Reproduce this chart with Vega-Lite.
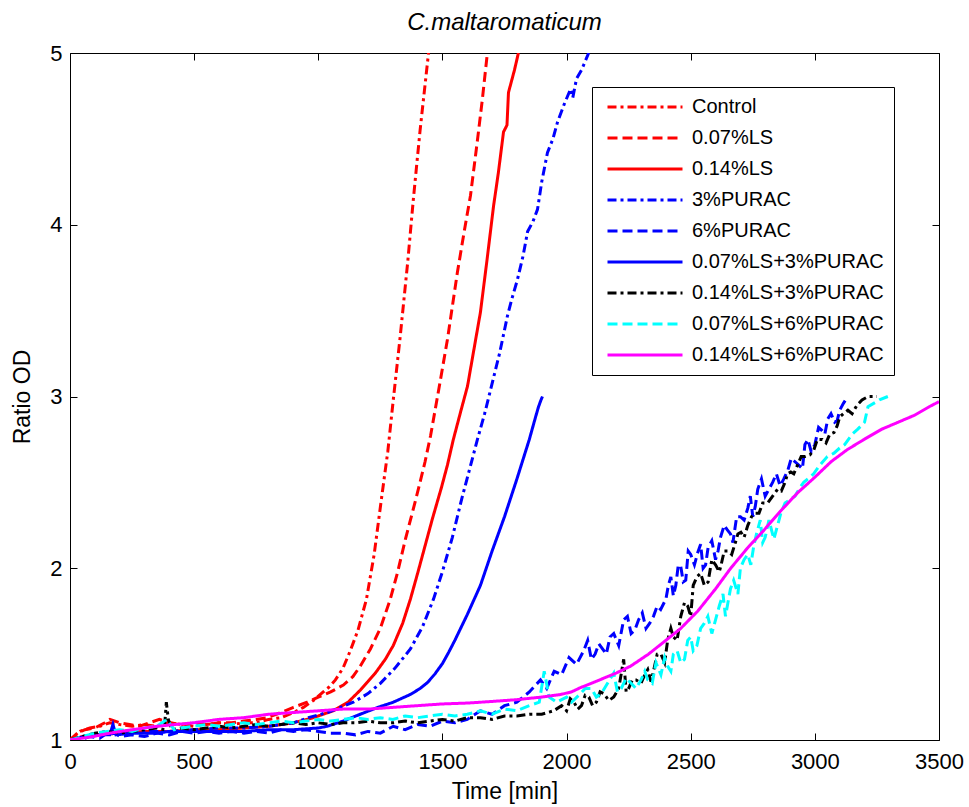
{
  "$schema": "https://vega.github.io/schema/vega-lite/v6.json",
  "width": 869,
  "height": 687,
  "autosize": {"type": "none"},
  "padding": {"left": 70, "top": 53, "right": 30, "bottom": 67},
  "config": {"view": {"stroke": "black", "strokeWidth": 1}, "font": "Liberation Sans"},
  "title": {"text": "C.maltaromaticum", "fontStyle": "italic", "fontWeight": "normal", "fontSize": 24, "font": "Liberation Sans", "color": "black", "offset": 7},
  "datasets": {
    "d": [
      {"s":"Control","t":0,"r":1.0},{"s":"Control","t":40,"r":1.05},{"s":"Control","t":80,"r":1.07},{"s":"Control","t":120,"r":1.08},{"s":"Control","t":160,"r":1.1},{"s":"Control","t":200,"r":1.09},{"s":"Control","t":250,"r":1.08},{"s":"Control","t":300,"r":1.09},{"s":"Control","t":350,"r":1.08},{"s":"Control","t":400,"r":1.1},{"s":"Control","t":450,"r":1.09},{"s":"Control","t":500,"r":1.08},{"s":"Control","t":550,"r":1.09},{"s":"Control","t":600,"r":1.1},{"s":"Control","t":650,"r":1.09},{"s":"Control","t":700,"r":1.1},{"s":"Control","t":750,"r":1.1},{"s":"Control","t":800,"r":1.12},{"s":"Control","t":850,"r":1.13},{"s":"Control","t":900,"r":1.16},{"s":"Control","t":940,"r":1.19},{"s":"Control","t":980,"r":1.23},{"s":"Control","t":1020,"r":1.28},{"s":"Control","t":1045,"r":1.31},{"s":"Control","t":1069,"r":1.35},{"s":"Control","t":1100,"r":1.42},{"s":"Control","t":1129,"r":1.52},{"s":"Control","t":1160,"r":1.64},{"s":"Control","t":1194,"r":1.82},{"s":"Control","t":1225,"r":2.08},{"s":"Control","t":1254,"r":2.4},{"s":"Control","t":1280,"r":2.68},{"s":"Control","t":1302,"r":2.98},{"s":"Control","t":1330,"r":3.35},{"s":"Control","t":1360,"r":3.78},{"s":"Control","t":1383,"r":4.15},{"s":"Control","t":1410,"r":4.55},{"s":"Control","t":1444,"r":5.0},

      {"s":"0.07%LS","t":0,"r":1.0},{"s":"0.07%LS","t":30,"r":1.04},{"s":"0.07%LS","t":60,"r":1.06},{"s":"0.07%LS","t":100,"r":1.07},{"s":"0.07%LS","t":140,"r":1.1},{"s":"0.07%LS","t":161,"r":1.12},{"s":"0.07%LS","t":200,"r":1.1},{"s":"0.07%LS","t":240,"r":1.09},{"s":"0.07%LS","t":280,"r":1.08},{"s":"0.07%LS","t":320,"r":1.1},{"s":"0.07%LS","t":360,"r":1.12},{"s":"0.07%LS","t":400,"r":1.1},{"s":"0.07%LS","t":450,"r":1.09},{"s":"0.07%LS","t":500,"r":1.1},{"s":"0.07%LS","t":550,"r":1.09},{"s":"0.07%LS","t":600,"r":1.1},{"s":"0.07%LS","t":650,"r":1.1},{"s":"0.07%LS","t":700,"r":1.11},{"s":"0.07%LS","t":750,"r":1.12},{"s":"0.07%LS","t":794,"r":1.13},{"s":"0.07%LS","t":850,"r":1.16},{"s":"0.07%LS","t":900,"r":1.19},{"s":"0.07%LS","t":955,"r":1.22},{"s":"0.07%LS","t":1000,"r":1.25},{"s":"0.07%LS","t":1050,"r":1.28},{"s":"0.07%LS","t":1101,"r":1.32},{"s":"0.07%LS","t":1140,"r":1.37},{"s":"0.07%LS","t":1169,"r":1.43},{"s":"0.07%LS","t":1210,"r":1.53},{"s":"0.07%LS","t":1250,"r":1.65},{"s":"0.07%LS","t":1290,"r":1.82},{"s":"0.07%LS","t":1320,"r":1.98},{"s":"0.07%LS","t":1351,"r":2.17},{"s":"0.07%LS","t":1380,"r":2.33},{"s":"0.07%LS","t":1403,"r":2.46},{"s":"0.07%LS","t":1430,"r":2.62},{"s":"0.07%LS","t":1452,"r":2.77},{"s":"0.07%LS","t":1490,"r":3.08},{"s":"0.07%LS","t":1520,"r":3.33},{"s":"0.07%LS","t":1560,"r":3.72},{"s":"0.07%LS","t":1590,"r":3.98},{"s":"0.07%LS","t":1613,"r":4.17},{"s":"0.07%LS","t":1640,"r":4.48},{"s":"0.07%LS","t":1660,"r":4.72},{"s":"0.07%LS","t":1681,"r":5.0},

      {"s":"0.14%LS","t":0,"r":1.0},{"s":"0.14%LS","t":50,"r":1.02},{"s":"0.14%LS","t":100,"r":1.03},{"s":"0.14%LS","t":200,"r":1.04},{"s":"0.14%LS","t":300,"r":1.05},{"s":"0.14%LS","t":400,"r":1.05},{"s":"0.14%LS","t":500,"r":1.06},{"s":"0.14%LS","t":600,"r":1.06},{"s":"0.14%LS","t":700,"r":1.07},{"s":"0.14%LS","t":800,"r":1.08},{"s":"0.14%LS","t":899,"r":1.1},{"s":"0.14%LS","t":980,"r":1.13},{"s":"0.14%LS","t":1060,"r":1.17},{"s":"0.14%LS","t":1120,"r":1.22},{"s":"0.14%LS","t":1169,"r":1.29},{"s":"0.14%LS","t":1230,"r":1.39},{"s":"0.14%LS","t":1270,"r":1.47},{"s":"0.14%LS","t":1302,"r":1.55},{"s":"0.14%LS","t":1340,"r":1.68},{"s":"0.14%LS","t":1371,"r":1.82},{"s":"0.14%LS","t":1400,"r":1.97},{"s":"0.14%LS","t":1430,"r":2.13},{"s":"0.14%LS","t":1460,"r":2.29},{"s":"0.14%LS","t":1496,"r":2.47},{"s":"0.14%LS","t":1520,"r":2.6},{"s":"0.14%LS","t":1544,"r":2.75},{"s":"0.14%LS","t":1575,"r":2.92},{"s":"0.14%LS","t":1601,"r":3.06},{"s":"0.14%LS","t":1630,"r":3.3},{"s":"0.14%LS","t":1653,"r":3.49},{"s":"0.14%LS","t":1680,"r":3.8},{"s":"0.14%LS","t":1706,"r":4.11},{"s":"0.14%LS","t":1725,"r":4.3},{"s":"0.14%LS","t":1746,"r":4.54},{"s":"0.14%LS","t":1760,"r":4.58},{"s":"0.14%LS","t":1766,"r":4.77},{"s":"0.14%LS","t":1790,"r":4.9},{"s":"0.14%LS","t":1806,"r":5.0},

      {"s":"3%PURAC","t":0,"r":1.0},{"s":"3%PURAC","t":50,"r":1.02},{"s":"3%PURAC","t":100,"r":1.03},{"s":"3%PURAC","t":200,"r":1.04},{"s":"3%PURAC","t":300,"r":1.05},{"s":"3%PURAC","t":400,"r":1.05},{"s":"3%PURAC","t":500,"r":1.06},{"s":"3%PURAC","t":600,"r":1.07},{"s":"3%PURAC","t":700,"r":1.07},{"s":"3%PURAC","t":800,"r":1.08},{"s":"3%PURAC","t":900,"r":1.1},{"s":"3%PURAC","t":960,"r":1.13},{"s":"3%PURAC","t":1036,"r":1.16},{"s":"3%PURAC","t":1090,"r":1.19},{"s":"3%PURAC","t":1141,"r":1.22},{"s":"3%PURAC","t":1200,"r":1.27},{"s":"3%PURAC","t":1250,"r":1.33},{"s":"3%PURAC","t":1310,"r":1.42},{"s":"3%PURAC","t":1371,"r":1.53},{"s":"3%PURAC","t":1420,"r":1.66},{"s":"3%PURAC","t":1464,"r":1.82},{"s":"3%PURAC","t":1500,"r":1.98},{"s":"3%PURAC","t":1540,"r":2.18},{"s":"3%PURAC","t":1577,"r":2.4},{"s":"3%PURAC","t":1610,"r":2.58},{"s":"3%PURAC","t":1641,"r":2.75},{"s":"3%PURAC","t":1670,"r":2.9},{"s":"3%PURAC","t":1694,"r":3.04},{"s":"3%PURAC","t":1730,"r":3.25},{"s":"3%PURAC","t":1762,"r":3.47},{"s":"3%PURAC","t":1780,"r":3.57},{"s":"3%PURAC","t":1802,"r":3.68},{"s":"3%PURAC","t":1825,"r":3.82},{"s":"3%PURAC","t":1843,"r":3.96},{"s":"3%PURAC","t":1865,"r":4.02},{"s":"3%PURAC","t":1883,"r":4.09},{"s":"3%PURAC","t":1900,"r":4.25},{"s":"3%PURAC","t":1923,"r":4.42},{"s":"3%PURAC","t":1945,"r":4.5},{"s":"3%PURAC","t":1964,"r":4.6},{"s":"3%PURAC","t":1990,"r":4.7},{"s":"3%PURAC","t":2016,"r":4.79},{"s":"3%PURAC","t":2025,"r":4.74},{"s":"3%PURAC","t":2040,"r":4.85},{"s":"3%PURAC","t":2060,"r":4.9},{"s":"3%PURAC","t":2089,"r":5.0},

      {"s":"6%PURAC","t":0,"r":1.0},{"s":"6%PURAC","t":40,"r":1.0},{"s":"6%PURAC","t":80,"r":1.02},{"s":"6%PURAC","t":120,"r":1.01},{"s":"6%PURAC","t":170,"r":1.06},{"s":"6%PURAC","t":200,"r":1.02},{"s":"6%PURAC","t":250,"r":1.03},{"s":"6%PURAC","t":300,"r":1.02},{"s":"6%PURAC","t":350,"r":1.04},{"s":"6%PURAC","t":400,"r":1.03},{"s":"6%PURAC","t":450,"r":1.05},{"s":"6%PURAC","t":500,"r":1.04},{"s":"6%PURAC","t":550,"r":1.05},{"s":"6%PURAC","t":600,"r":1.04},{"s":"6%PURAC","t":650,"r":1.05},{"s":"6%PURAC","t":700,"r":1.04},{"s":"6%PURAC","t":750,"r":1.05},{"s":"6%PURAC","t":800,"r":1.04},{"s":"6%PURAC","t":850,"r":1.06},{"s":"6%PURAC","t":900,"r":1.05},{"s":"6%PURAC","t":950,"r":1.06},{"s":"6%PURAC","t":1000,"r":1.05},{"s":"6%PURAC","t":1050,"r":1.04},{"s":"6%PURAC","t":1101,"r":1.04},{"s":"6%PURAC","t":1150,"r":1.03},{"s":"6%PURAC","t":1200,"r":1.05},{"s":"6%PURAC","t":1250,"r":1.04},{"s":"6%PURAC","t":1302,"r":1.08},{"s":"6%PURAC","t":1350,"r":1.06},{"s":"6%PURAC","t":1400,"r":1.09},{"s":"6%PURAC","t":1450,"r":1.08},{"s":"6%PURAC","t":1500,"r":1.11},{"s":"6%PURAC","t":1550,"r":1.1},{"s":"6%PURAC","t":1600,"r":1.12},{"s":"6%PURAC","t":1653,"r":1.17},{"s":"6%PURAC","t":1700,"r":1.15},{"s":"6%PURAC","t":1750,"r":1.2},{"s":"6%PURAC","t":1800,"r":1.22},{"s":"6%PURAC","t":1850,"r":1.28},{"s":"6%PURAC","t":1895,"r":1.35},{"s":"6%PURAC","t":1920,"r":1.3},{"s":"6%PURAC","t":1950,"r":1.4},{"s":"6%PURAC","t":1980,"r":1.38},{"s":"6%PURAC","t":2010,"r":1.48},{"s":"6%PURAC","t":2040,"r":1.44},{"s":"6%PURAC","t":2069,"r":1.52},{"s":"6%PURAC","t":2085,"r":1.58},{"s":"6%PURAC","t":2100,"r":1.47},{"s":"6%PURAC","t":2115,"r":1.5},{"s":"6%PURAC","t":2130,"r":1.56},{"s":"6%PURAC","t":2160,"r":1.5},{"s":"6%PURAC","t":2175,"r":1.6},{"s":"6%PURAC","t":2190,"r":1.62},{"s":"6%PURAC","t":2210,"r":1.55},{"s":"6%PURAC","t":2230,"r":1.7},{"s":"6%PURAC","t":2245,"r":1.72},{"s":"6%PURAC","t":2260,"r":1.62},{"s":"6%PURAC","t":2275,"r":1.64},{"s":"6%PURAC","t":2290,"r":1.7},{"s":"6%PURAC","t":2305,"r":1.74},{"s":"6%PURAC","t":2320,"r":1.65},{"s":"6%PURAC","t":2335,"r":1.68},{"s":"6%PURAC","t":2350,"r":1.72},{"s":"6%PURAC","t":2365,"r":1.78},{"s":"6%PURAC","t":2379,"r":1.76},{"s":"6%PURAC","t":2400,"r":1.82},{"s":"6%PURAC","t":2410,"r":1.9},{"s":"6%PURAC","t":2420,"r":1.95},{"s":"6%PURAC","t":2430,"r":1.84},{"s":"6%PURAC","t":2440,"r":1.9},{"s":"6%PURAC","t":2450,"r":2.02},{"s":"6%PURAC","t":2460,"r":2.01},{"s":"6%PURAC","t":2470,"r":1.92},{"s":"6%PURAC","t":2480,"r":1.93},{"s":"6%PURAC","t":2490,"r":2.1},{"s":"6%PURAC","t":2500,"r":2.08},{"s":"6%PURAC","t":2515,"r":2.02},{"s":"6%PURAC","t":2528,"r":2.09},{"s":"6%PURAC","t":2540,"r":2.14},{"s":"6%PURAC","t":2550,"r":2.0},{"s":"6%PURAC","t":2560,"r":2.02},{"s":"6%PURAC","t":2570,"r":2.12},{"s":"6%PURAC","t":2585,"r":2.16},{"s":"6%PURAC","t":2600,"r":2.05},{"s":"6%PURAC","t":2610,"r":2.1},{"s":"6%PURAC","t":2620,"r":2.18},{"s":"6%PURAC","t":2635,"r":2.25},{"s":"6%PURAC","t":2649,"r":2.22},{"s":"6%PURAC","t":2660,"r":2.2},{"s":"6%PURAC","t":2670,"r":2.15},{"s":"6%PURAC","t":2685,"r":2.3},{"s":"6%PURAC","t":2700,"r":2.3},{"s":"6%PURAC","t":2715,"r":2.28},{"s":"6%PURAC","t":2730,"r":2.35},{"s":"6%PURAC","t":2740,"r":2.42},{"s":"6%PURAC","t":2750,"r":2.3},{"s":"6%PURAC","t":2760,"r":2.36},{"s":"6%PURAC","t":2770,"r":2.46},{"s":"6%PURAC","t":2785,"r":2.52},{"s":"6%PURAC","t":2800,"r":2.42},{"s":"6%PURAC","t":2815,"r":2.46},{"s":"6%PURAC","t":2830,"r":2.5},{"s":"6%PURAC","t":2845,"r":2.55},{"s":"6%PURAC","t":2860,"r":2.48},{"s":"6%PURAC","t":2875,"r":2.52},{"s":"6%PURAC","t":2891,"r":2.57},{"s":"6%PURAC","t":2905,"r":2.64},{"s":"6%PURAC","t":2920,"r":2.62},{"s":"6%PURAC","t":2935,"r":2.6},{"s":"6%PURAC","t":2950,"r":2.58},{"s":"6%PURAC","t":2960,"r":2.72},{"s":"6%PURAC","t":2972,"r":2.75},{"s":"6%PURAC","t":2985,"r":2.68},{"s":"6%PURAC","t":3000,"r":2.72},{"s":"6%PURAC","t":3015,"r":2.82},{"s":"6%PURAC","t":3030,"r":2.8},{"s":"6%PURAC","t":3040,"r":2.78},{"s":"6%PURAC","t":3052,"r":2.87},{"s":"6%PURAC","t":3065,"r":2.9},{"s":"6%PURAC","t":3080,"r":2.85},{"s":"6%PURAC","t":3090,"r":2.86},{"s":"6%PURAC","t":3100,"r":2.92},{"s":"6%PURAC","t":3115,"r":2.96},{"s":"6%PURAC","t":3133,"r":3.0},

      {"s":"0.07%LS+3%PURAC","t":0,"r":1.0},{"s":"0.07%LS+3%PURAC","t":60,"r":1.02},{"s":"0.07%LS+3%PURAC","t":120,"r":1.03},{"s":"0.07%LS+3%PURAC","t":160,"r":1.03},{"s":"0.07%LS+3%PURAC","t":173,"r":1.09},{"s":"0.07%LS+3%PURAC","t":185,"r":1.03},{"s":"0.07%LS+3%PURAC","t":250,"r":1.04},{"s":"0.07%LS+3%PURAC","t":300,"r":1.04},{"s":"0.07%LS+3%PURAC","t":350,"r":1.04},{"s":"0.07%LS+3%PURAC","t":400,"r":1.05},{"s":"0.07%LS+3%PURAC","t":500,"r":1.05},{"s":"0.07%LS+3%PURAC","t":600,"r":1.05},{"s":"0.07%LS+3%PURAC","t":700,"r":1.05},{"s":"0.07%LS+3%PURAC","t":800,"r":1.06},{"s":"0.07%LS+3%PURAC","t":900,"r":1.06},{"s":"0.07%LS+3%PURAC","t":1000,"r":1.07},{"s":"0.07%LS+3%PURAC","t":1036,"r":1.08},{"s":"0.07%LS+3%PURAC","t":1100,"r":1.11},{"s":"0.07%LS+3%PURAC","t":1169,"r":1.15},{"s":"0.07%LS+3%PURAC","t":1240,"r":1.19},{"s":"0.07%LS+3%PURAC","t":1302,"r":1.22},{"s":"0.07%LS+3%PURAC","t":1340,"r":1.245},{"s":"0.07%LS+3%PURAC","t":1371,"r":1.265},{"s":"0.07%LS+3%PURAC","t":1410,"r":1.3},{"s":"0.07%LS+3%PURAC","t":1440,"r":1.335},{"s":"0.07%LS+3%PURAC","t":1470,"r":1.385},{"s":"0.07%LS+3%PURAC","t":1500,"r":1.445},{"s":"0.07%LS+3%PURAC","t":1525,"r":1.51},{"s":"0.07%LS+3%PURAC","t":1550,"r":1.58},{"s":"0.07%LS+3%PURAC","t":1575,"r":1.655},{"s":"0.07%LS+3%PURAC","t":1600,"r":1.73},{"s":"0.07%LS+3%PURAC","t":1625,"r":1.81},{"s":"0.07%LS+3%PURAC","t":1653,"r":1.9},{"s":"0.07%LS+3%PURAC","t":1700,"r":2.1},{"s":"0.07%LS+3%PURAC","t":1750,"r":2.3},{"s":"0.07%LS+3%PURAC","t":1800,"r":2.52},{"s":"0.07%LS+3%PURAC","t":1850,"r":2.75},{"s":"0.07%LS+3%PURAC","t":1875,"r":2.88},{"s":"0.07%LS+3%PURAC","t":1887,"r":2.94},{"s":"0.07%LS+3%PURAC","t":1897,"r":2.98},{"s":"0.07%LS+3%PURAC","t":1903,"r":3.0},

      {"s":"0.14%LS+3%PURAC","t":0,"r":1.0},{"s":"0.14%LS+3%PURAC","t":50,"r":1.02},{"s":"0.14%LS+3%PURAC","t":100,"r":1.04},{"s":"0.14%LS+3%PURAC","t":150,"r":1.05},{"s":"0.14%LS+3%PURAC","t":200,"r":1.04},{"s":"0.14%LS+3%PURAC","t":250,"r":1.05},{"s":"0.14%LS+3%PURAC","t":300,"r":1.06},{"s":"0.14%LS+3%PURAC","t":350,"r":1.07},{"s":"0.14%LS+3%PURAC","t":380,"r":1.06},{"s":"0.14%LS+3%PURAC","t":388,"r":1.22},{"s":"0.14%LS+3%PURAC","t":396,"r":1.12},{"s":"0.14%LS+3%PURAC","t":410,"r":1.06},{"s":"0.14%LS+3%PURAC","t":450,"r":1.07},{"s":"0.14%LS+3%PURAC","t":500,"r":1.06},{"s":"0.14%LS+3%PURAC","t":550,"r":1.07},{"s":"0.14%LS+3%PURAC","t":600,"r":1.08},{"s":"0.14%LS+3%PURAC","t":650,"r":1.07},{"s":"0.14%LS+3%PURAC","t":700,"r":1.08},{"s":"0.14%LS+3%PURAC","t":750,"r":1.09},{"s":"0.14%LS+3%PURAC","t":800,"r":1.08},{"s":"0.14%LS+3%PURAC","t":850,"r":1.09},{"s":"0.14%LS+3%PURAC","t":900,"r":1.1},{"s":"0.14%LS+3%PURAC","t":950,"r":1.09},{"s":"0.14%LS+3%PURAC","t":1000,"r":1.1},{"s":"0.14%LS+3%PURAC","t":1050,"r":1.09},{"s":"0.14%LS+3%PURAC","t":1100,"r":1.1},{"s":"0.14%LS+3%PURAC","t":1150,"r":1.1},{"s":"0.14%LS+3%PURAC","t":1200,"r":1.11},{"s":"0.14%LS+3%PURAC","t":1250,"r":1.1},{"s":"0.14%LS+3%PURAC","t":1300,"r":1.1},{"s":"0.14%LS+3%PURAC","t":1350,"r":1.11},{"s":"0.14%LS+3%PURAC","t":1400,"r":1.1},{"s":"0.14%LS+3%PURAC","t":1450,"r":1.11},{"s":"0.14%LS+3%PURAC","t":1500,"r":1.12},{"s":"0.14%LS+3%PURAC","t":1550,"r":1.11},{"s":"0.14%LS+3%PURAC","t":1600,"r":1.13},{"s":"0.14%LS+3%PURAC","t":1653,"r":1.13},{"s":"0.14%LS+3%PURAC","t":1700,"r":1.12},{"s":"0.14%LS+3%PURAC","t":1750,"r":1.14},{"s":"0.14%LS+3%PURAC","t":1800,"r":1.14},{"s":"0.14%LS+3%PURAC","t":1850,"r":1.15},{"s":"0.14%LS+3%PURAC","t":1900,"r":1.15},{"s":"0.14%LS+3%PURAC","t":1948,"r":1.17},{"s":"0.14%LS+3%PURAC","t":1980,"r":1.2},{"s":"0.14%LS+3%PURAC","t":2000,"r":1.17},{"s":"0.14%LS+3%PURAC","t":2015,"r":1.24},{"s":"0.14%LS+3%PURAC","t":2030,"r":1.22},{"s":"0.14%LS+3%PURAC","t":2045,"r":1.18},{"s":"0.14%LS+3%PURAC","t":2060,"r":1.2},{"s":"0.14%LS+3%PURAC","t":2075,"r":1.26},{"s":"0.14%LS+3%PURAC","t":2090,"r":1.25},{"s":"0.14%LS+3%PURAC","t":2105,"r":1.2},{"s":"0.14%LS+3%PURAC","t":2120,"r":1.22},{"s":"0.14%LS+3%PURAC","t":2135,"r":1.28},{"s":"0.14%LS+3%PURAC","t":2150,"r":1.27},{"s":"0.14%LS+3%PURAC","t":2170,"r":1.23},{"s":"0.14%LS+3%PURAC","t":2190,"r":1.25},{"s":"0.14%LS+3%PURAC","t":2210,"r":1.3},{"s":"0.14%LS+3%PURAC","t":2230,"r":1.47},{"s":"0.14%LS+3%PURAC","t":2240,"r":1.28},{"s":"0.14%LS+3%PURAC","t":2250,"r":1.3},{"s":"0.14%LS+3%PURAC","t":2265,"r":1.35},{"s":"0.14%LS+3%PURAC","t":2280,"r":1.35},{"s":"0.14%LS+3%PURAC","t":2300,"r":1.33},{"s":"0.14%LS+3%PURAC","t":2315,"r":1.38},{"s":"0.14%LS+3%PURAC","t":2327,"r":1.41},{"s":"0.14%LS+3%PURAC","t":2340,"r":1.34},{"s":"0.14%LS+3%PURAC","t":2350,"r":1.4},{"s":"0.14%LS+3%PURAC","t":2365,"r":1.5},{"s":"0.14%LS+3%PURAC","t":2380,"r":1.5},{"s":"0.14%LS+3%PURAC","t":2395,"r":1.45},{"s":"0.14%LS+3%PURAC","t":2407,"r":1.58},{"s":"0.14%LS+3%PURAC","t":2420,"r":1.65},{"s":"0.14%LS+3%PURAC","t":2430,"r":1.6},{"s":"0.14%LS+3%PURAC","t":2445,"r":1.58},{"s":"0.14%LS+3%PURAC","t":2460,"r":1.72},{"s":"0.14%LS+3%PURAC","t":2475,"r":1.8},{"s":"0.14%LS+3%PURAC","t":2488,"r":1.78},{"s":"0.14%LS+3%PURAC","t":2500,"r":1.72},{"s":"0.14%LS+3%PURAC","t":2510,"r":1.9},{"s":"0.14%LS+3%PURAC","t":2525,"r":1.95},{"s":"0.14%LS+3%PURAC","t":2540,"r":1.97},{"s":"0.14%LS+3%PURAC","t":2555,"r":1.9},{"s":"0.14%LS+3%PURAC","t":2570,"r":1.92},{"s":"0.14%LS+3%PURAC","t":2585,"r":2.05},{"s":"0.14%LS+3%PURAC","t":2600,"r":2.02},{"s":"0.14%LS+3%PURAC","t":2615,"r":1.98},{"s":"0.14%LS+3%PURAC","t":2621,"r":2.01},{"s":"0.14%LS+3%PURAC","t":2635,"r":2.1},{"s":"0.14%LS+3%PURAC","t":2650,"r":2.1},{"s":"0.14%LS+3%PURAC","t":2665,"r":2.08},{"s":"0.14%LS+3%PURAC","t":2680,"r":2.15},{"s":"0.14%LS+3%PURAC","t":2690,"r":2.2},{"s":"0.14%LS+3%PURAC","t":2702,"r":2.21},{"s":"0.14%LS+3%PURAC","t":2715,"r":2.18},{"s":"0.14%LS+3%PURAC","t":2730,"r":2.25},{"s":"0.14%LS+3%PURAC","t":2745,"r":2.3},{"s":"0.14%LS+3%PURAC","t":2760,"r":2.32},{"s":"0.14%LS+3%PURAC","t":2775,"r":2.32},{"s":"0.14%LS+3%PURAC","t":2790,"r":2.38},{"s":"0.14%LS+3%PURAC","t":2810,"r":2.38},{"s":"0.14%LS+3%PURAC","t":2830,"r":2.42},{"s":"0.14%LS+3%PURAC","t":2850,"r":2.46},{"s":"0.14%LS+3%PURAC","t":2865,"r":2.45},{"s":"0.14%LS+3%PURAC","t":2880,"r":2.5},{"s":"0.14%LS+3%PURAC","t":2890,"r":2.55},{"s":"0.14%LS+3%PURAC","t":2903,"r":2.56},{"s":"0.14%LS+3%PURAC","t":2915,"r":2.55},{"s":"0.14%LS+3%PURAC","t":2930,"r":2.6},{"s":"0.14%LS+3%PURAC","t":2945,"r":2.65},{"s":"0.14%LS+3%PURAC","t":2960,"r":2.65},{"s":"0.14%LS+3%PURAC","t":2980,"r":2.66},{"s":"0.14%LS+3%PURAC","t":2996,"r":2.69},{"s":"0.14%LS+3%PURAC","t":3010,"r":2.75},{"s":"0.14%LS+3%PURAC","t":3030,"r":2.75},{"s":"0.14%LS+3%PURAC","t":3045,"r":2.73},{"s":"0.14%LS+3%PURAC","t":3060,"r":2.78},{"s":"0.14%LS+3%PURAC","t":3077,"r":2.79},{"s":"0.14%LS+3%PURAC","t":3090,"r":2.83},{"s":"0.14%LS+3%PURAC","t":3100,"r":2.88},{"s":"0.14%LS+3%PURAC","t":3115,"r":2.9},{"s":"0.14%LS+3%PURAC","t":3133,"r":2.92},{"s":"0.14%LS+3%PURAC","t":3150,"r":2.9},{"s":"0.14%LS+3%PURAC","t":3170,"r":2.95},{"s":"0.14%LS+3%PURAC","t":3190,"r":2.98},{"s":"0.14%LS+3%PURAC","t":3214,"r":3.0},{"s":"0.14%LS+3%PURAC","t":3250,"r":3.0},

      {"s":"0.07%LS+6%PURAC","t":0,"r":1.0},{"s":"0.07%LS+6%PURAC","t":50,"r":1.02},{"s":"0.07%LS+6%PURAC","t":100,"r":1.04},{"s":"0.07%LS+6%PURAC","t":150,"r":1.05},{"s":"0.07%LS+6%PURAC","t":200,"r":1.06},{"s":"0.07%LS+6%PURAC","t":250,"r":1.05},{"s":"0.07%LS+6%PURAC","t":300,"r":1.07},{"s":"0.07%LS+6%PURAC","t":350,"r":1.08},{"s":"0.07%LS+6%PURAC","t":390,"r":1.12},{"s":"0.07%LS+6%PURAC","t":420,"r":1.06},{"s":"0.07%LS+6%PURAC","t":450,"r":1.07},{"s":"0.07%LS+6%PURAC","t":500,"r":1.08},{"s":"0.07%LS+6%PURAC","t":550,"r":1.09},{"s":"0.07%LS+6%PURAC","t":600,"r":1.08},{"s":"0.07%LS+6%PURAC","t":650,"r":1.09},{"s":"0.07%LS+6%PURAC","t":700,"r":1.1},{"s":"0.07%LS+6%PURAC","t":750,"r":1.09},{"s":"0.07%LS+6%PURAC","t":800,"r":1.1},{"s":"0.07%LS+6%PURAC","t":850,"r":1.11},{"s":"0.07%LS+6%PURAC","t":900,"r":1.1},{"s":"0.07%LS+6%PURAC","t":950,"r":1.11},{"s":"0.07%LS+6%PURAC","t":1000,"r":1.12},{"s":"0.07%LS+6%PURAC","t":1050,"r":1.11},{"s":"0.07%LS+6%PURAC","t":1100,"r":1.12},{"s":"0.07%LS+6%PURAC","t":1150,"r":1.13},{"s":"0.07%LS+6%PURAC","t":1200,"r":1.12},{"s":"0.07%LS+6%PURAC","t":1250,"r":1.13},{"s":"0.07%LS+6%PURAC","t":1300,"r":1.12},{"s":"0.07%LS+6%PURAC","t":1350,"r":1.14},{"s":"0.07%LS+6%PURAC","t":1400,"r":1.13},{"s":"0.07%LS+6%PURAC","t":1450,"r":1.14},{"s":"0.07%LS+6%PURAC","t":1500,"r":1.15},{"s":"0.07%LS+6%PURAC","t":1550,"r":1.14},{"s":"0.07%LS+6%PURAC","t":1600,"r":1.15},{"s":"0.07%LS+6%PURAC","t":1653,"r":1.17},{"s":"0.07%LS+6%PURAC","t":1700,"r":1.15},{"s":"0.07%LS+6%PURAC","t":1750,"r":1.18},{"s":"0.07%LS+6%PURAC","t":1800,"r":1.17},{"s":"0.07%LS+6%PURAC","t":1850,"r":1.2},{"s":"0.07%LS+6%PURAC","t":1890,"r":1.22},{"s":"0.07%LS+6%PURAC","t":1910,"r":1.4},{"s":"0.07%LS+6%PURAC","t":1930,"r":1.25},{"s":"0.07%LS+6%PURAC","t":1960,"r":1.22},{"s":"0.07%LS+6%PURAC","t":2000,"r":1.25},{"s":"0.07%LS+6%PURAC","t":2020,"r":1.22},{"s":"0.07%LS+6%PURAC","t":2056,"r":1.27},{"s":"0.07%LS+6%PURAC","t":2075,"r":1.3},{"s":"0.07%LS+6%PURAC","t":2100,"r":1.3},{"s":"0.07%LS+6%PURAC","t":2120,"r":1.25},{"s":"0.07%LS+6%PURAC","t":2140,"r":1.27},{"s":"0.07%LS+6%PURAC","t":2165,"r":1.33},{"s":"0.07%LS+6%PURAC","t":2190,"r":1.39},{"s":"0.07%LS+6%PURAC","t":2205,"r":1.28},{"s":"0.07%LS+6%PURAC","t":2220,"r":1.3},{"s":"0.07%LS+6%PURAC","t":2240,"r":1.36},{"s":"0.07%LS+6%PURAC","t":2260,"r":1.33},{"s":"0.07%LS+6%PURAC","t":2280,"r":1.3},{"s":"0.07%LS+6%PURAC","t":2300,"r":1.35},{"s":"0.07%LS+6%PURAC","t":2315,"r":1.4},{"s":"0.07%LS+6%PURAC","t":2327,"r":1.35},{"s":"0.07%LS+6%PURAC","t":2345,"r":1.33},{"s":"0.07%LS+6%PURAC","t":2360,"r":1.45},{"s":"0.07%LS+6%PURAC","t":2380,"r":1.38},{"s":"0.07%LS+6%PURAC","t":2395,"r":1.48},{"s":"0.07%LS+6%PURAC","t":2407,"r":1.43},{"s":"0.07%LS+6%PURAC","t":2420,"r":1.4},{"s":"0.07%LS+6%PURAC","t":2430,"r":1.5},{"s":"0.07%LS+6%PURAC","t":2445,"r":1.52},{"s":"0.07%LS+6%PURAC","t":2460,"r":1.45},{"s":"0.07%LS+6%PURAC","t":2475,"r":1.47},{"s":"0.07%LS+6%PURAC","t":2488,"r":1.58},{"s":"0.07%LS+6%PURAC","t":2500,"r":1.6},{"s":"0.07%LS+6%PURAC","t":2510,"r":1.52},{"s":"0.07%LS+6%PURAC","t":2525,"r":1.55},{"s":"0.07%LS+6%PURAC","t":2540,"r":1.65},{"s":"0.07%LS+6%PURAC","t":2555,"r":1.68},{"s":"0.07%LS+6%PURAC","t":2569,"r":1.72},{"s":"0.07%LS+6%PURAC","t":2585,"r":1.62},{"s":"0.07%LS+6%PURAC","t":2600,"r":1.7},{"s":"0.07%LS+6%PURAC","t":2615,"r":1.78},{"s":"0.07%LS+6%PURAC","t":2630,"r":1.85},{"s":"0.07%LS+6%PURAC","t":2640,"r":1.72},{"s":"0.07%LS+6%PURAC","t":2650,"r":1.8},{"s":"0.07%LS+6%PURAC","t":2660,"r":1.88},{"s":"0.07%LS+6%PURAC","t":2673,"r":1.93},{"s":"0.07%LS+6%PURAC","t":2690,"r":1.85},{"s":"0.07%LS+6%PURAC","t":2700,"r":2.0},{"s":"0.07%LS+6%PURAC","t":2715,"r":2.05},{"s":"0.07%LS+6%PURAC","t":2730,"r":2.08},{"s":"0.07%LS+6%PURAC","t":2742,"r":2.02},{"s":"0.07%LS+6%PURAC","t":2754,"r":2.13},{"s":"0.07%LS+6%PURAC","t":2765,"r":2.2},{"s":"0.07%LS+6%PURAC","t":2780,"r":2.28},{"s":"0.07%LS+6%PURAC","t":2790,"r":2.15},{"s":"0.07%LS+6%PURAC","t":2800,"r":2.18},{"s":"0.07%LS+6%PURAC","t":2815,"r":2.28},{"s":"0.07%LS+6%PURAC","t":2835,"r":2.17},{"s":"0.07%LS+6%PURAC","t":2850,"r":2.25},{"s":"0.07%LS+6%PURAC","t":2863,"r":2.32},{"s":"0.07%LS+6%PURAC","t":2880,"r":2.38},{"s":"0.07%LS+6%PURAC","t":2900,"r":2.4},{"s":"0.07%LS+6%PURAC","t":2920,"r":2.42},{"s":"0.07%LS+6%PURAC","t":2940,"r":2.47},{"s":"0.07%LS+6%PURAC","t":2955,"r":2.5},{"s":"0.07%LS+6%PURAC","t":2972,"r":2.52},{"s":"0.07%LS+6%PURAC","t":2995,"r":2.55},{"s":"0.07%LS+6%PURAC","t":3020,"r":2.6},{"s":"0.07%LS+6%PURAC","t":3050,"r":2.65},{"s":"0.07%LS+6%PURAC","t":3077,"r":2.67},{"s":"0.07%LS+6%PURAC","t":3100,"r":2.7},{"s":"0.07%LS+6%PURAC","t":3120,"r":2.72},{"s":"0.07%LS+6%PURAC","t":3150,"r":2.78},{"s":"0.07%LS+6%PURAC","t":3173,"r":2.81},{"s":"0.07%LS+6%PURAC","t":3200,"r":2.85},{"s":"0.07%LS+6%PURAC","t":3214,"r":2.94},{"s":"0.07%LS+6%PURAC","t":3260,"r":2.98},{"s":"0.07%LS+6%PURAC","t":3294,"r":3.0},

      {"s":"0.14%LS+6%PURAC","t":0,"r":1.0},{"s":"0.14%LS+6%PURAC","t":93,"r":1.02},{"s":"0.14%LS+6%PURAC","t":161,"r":1.04},{"s":"0.14%LS+6%PURAC","t":250,"r":1.06},{"s":"0.14%LS+6%PURAC","t":350,"r":1.08},{"s":"0.14%LS+6%PURAC","t":496,"r":1.1},{"s":"0.14%LS+6%PURAC","t":600,"r":1.12},{"s":"0.14%LS+6%PURAC","t":700,"r":1.13},{"s":"0.14%LS+6%PURAC","t":800,"r":1.15},{"s":"0.14%LS+6%PURAC","t":899,"r":1.16},{"s":"0.14%LS+6%PURAC","t":1000,"r":1.17},{"s":"0.14%LS+6%PURAC","t":1100,"r":1.18},{"s":"0.14%LS+6%PURAC","t":1200,"r":1.18},{"s":"0.14%LS+6%PURAC","t":1302,"r":1.19},{"s":"0.14%LS+6%PURAC","t":1400,"r":1.2},{"s":"0.14%LS+6%PURAC","t":1500,"r":1.21},{"s":"0.14%LS+6%PURAC","t":1600,"r":1.215},{"s":"0.14%LS+6%PURAC","t":1706,"r":1.225},{"s":"0.14%LS+6%PURAC","t":1800,"r":1.235},{"s":"0.14%LS+6%PURAC","t":1900,"r":1.25},{"s":"0.14%LS+6%PURAC","t":1976,"r":1.265},{"s":"0.14%LS+6%PURAC","t":2020,"r":1.28},{"s":"0.14%LS+6%PURAC","t":2056,"r":1.305},{"s":"0.14%LS+6%PURAC","t":2100,"r":1.33},{"s":"0.14%LS+6%PURAC","t":2150,"r":1.36},{"s":"0.14%LS+6%PURAC","t":2200,"r":1.39},{"s":"0.14%LS+6%PURAC","t":2258,"r":1.43},{"s":"0.14%LS+6%PURAC","t":2330,"r":1.5},{"s":"0.14%LS+6%PURAC","t":2391,"r":1.57},{"s":"0.14%LS+6%PURAC","t":2460,"r":1.65},{"s":"0.14%LS+6%PURAC","t":2528,"r":1.75},{"s":"0.14%LS+6%PURAC","t":2600,"r":1.88},{"s":"0.14%LS+6%PURAC","t":2661,"r":2.0},{"s":"0.14%LS+6%PURAC","t":2730,"r":2.12},{"s":"0.14%LS+6%PURAC","t":2794,"r":2.22},{"s":"0.14%LS+6%PURAC","t":2860,"r":2.33},{"s":"0.14%LS+6%PURAC","t":2931,"r":2.44},{"s":"0.14%LS+6%PURAC","t":3000,"r":2.53},{"s":"0.14%LS+6%PURAC","t":3065,"r":2.62},{"s":"0.14%LS+6%PURAC","t":3130,"r":2.69},{"s":"0.14%LS+6%PURAC","t":3198,"r":2.75},{"s":"0.14%LS+6%PURAC","t":3270,"r":2.81},{"s":"0.14%LS+6%PURAC","t":3335,"r":2.85},{"s":"0.14%LS+6%PURAC","t":3400,"r":2.89},{"s":"0.14%LS+6%PURAC","t":3460,"r":2.94},{"s":"0.14%LS+6%PURAC","t":3500,"r":2.97}
    ]
  },
  "data": {"name": "d"},
  "layer": [
    {
      "mark": {"type": "line", "strokeWidth": 3, "clip": true},
      "encoding": {
        "x": {"field": "t", "type": "quantitative", "scale": {"domain": [0, 3500], "nice": false, "zero": false},
          "axis": {"orient": "bottom", "values": [0, 500, 1000, 1500, 2000, 2500, 3000, 3500], "format": "d", "title": "Time [min]", "titleFont": "Liberation Sans", "titleFontSize": 23, "titleFontWeight": "normal", "titleColor": "black", "titlePadding": 8, "labelFont": "Liberation Sans", "labelFontSize": 22, "labelColor": "black", "labelPadding": 18, "tickSize": -7, "tickColor": "black", "tickWidth": 1, "domain": false, "grid": false, "labelFlush": false, "labelOverlap": false}},
        "y": {"field": "r", "type": "quantitative", "scale": {"domain": [1, 5], "nice": false, "zero": false},
          "axis": {"orient": "left", "values": [1, 2, 3, 4, 5], "format": "d", "title": "Ratio OD", "titleFont": "Liberation Sans", "titleFontSize": 23, "titleFontWeight": "normal", "titleColor": "black", "titlePadding": 15, "labelFont": "Liberation Sans", "labelFontSize": 22, "labelColor": "black", "labelPadding": 15, "tickSize": -7, "tickColor": "black", "tickWidth": 1, "domain": false, "grid": false, "labelFlush": false, "labelOverlap": false}},
        "color": {"field": "s", "type": "nominal",
          "scale": {"domain": ["Control", "0.07%LS", "0.14%LS", "3%PURAC", "6%PURAC", "0.07%LS+3%PURAC", "0.14%LS+3%PURAC", "0.07%LS+6%PURAC", "0.14%LS+6%PURAC"],
                    "range": ["#ff0000", "#ff0000", "#ff0000", "#0000ff", "#0000ff", "#0000ff", "#000000", "#00ffff", "#ff00ff"]},
          "legend": {"title": null, "orient": "none", "legendX": 522, "legendY": 34, "symbolType": "stroke", "symbolSize": 5625, "symbolStrokeWidth": 3, "clipHeight": 20, "rowPadding": 11, "padding": 10, "symbolOffset": 4, "labelOffset": 8, "labelFont": "Liberation Sans", "labelFontSize": 20, "labelColor": "black", "strokeColor": "black", "fillColor": "white", "labelLimit": 400}},
        "strokeDash": {"field": "s", "type": "nominal",
          "scale": {"domain": ["Control", "0.07%LS", "0.14%LS", "3%PURAC", "6%PURAC", "0.07%LS+3%PURAC", "0.14%LS+3%PURAC", "0.07%LS+6%PURAC", "0.14%LS+6%PURAC"],
                    "range": [[9, 4, 3, 4], [10, 5], [1, 0], [9, 4, 3, 4], [10, 5], [1, 0], [9, 4, 3, 4], [10, 5], [1, 0]]},
          "legend": {"title": null, "orient": "none", "legendX": 522, "legendY": 34, "symbolType": "stroke", "symbolSize": 5625, "symbolStrokeWidth": 3, "clipHeight": 20, "rowPadding": 11, "padding": 10, "symbolOffset": 4, "labelOffset": 8, "labelFont": "Liberation Sans", "labelFontSize": 20, "labelColor": "black", "strokeColor": "black", "fillColor": "white", "labelLimit": 400}}
      }
    },
    {
      "mark": {"type": "point", "opacity": 0},
      "encoding": {
        "x": {"field": "t", "type": "quantitative", "axis": {"orient": "top", "values": [0, 500, 1000, 1500, 2000, 2500, 3000, 3500], "labels": false, "title": null, "tickSize": -7, "tickColor": "black", "domain": false, "grid": false}},
        "y": {"field": "r", "type": "quantitative", "axis": {"orient": "right", "values": [1, 2, 3, 4, 5], "labels": false, "title": null, "tickSize": -7, "tickColor": "black", "domain": false, "grid": false}}
      }
    }
  ],
  "resolve": {"axis": {"x": "independent", "y": "independent"}}
}
